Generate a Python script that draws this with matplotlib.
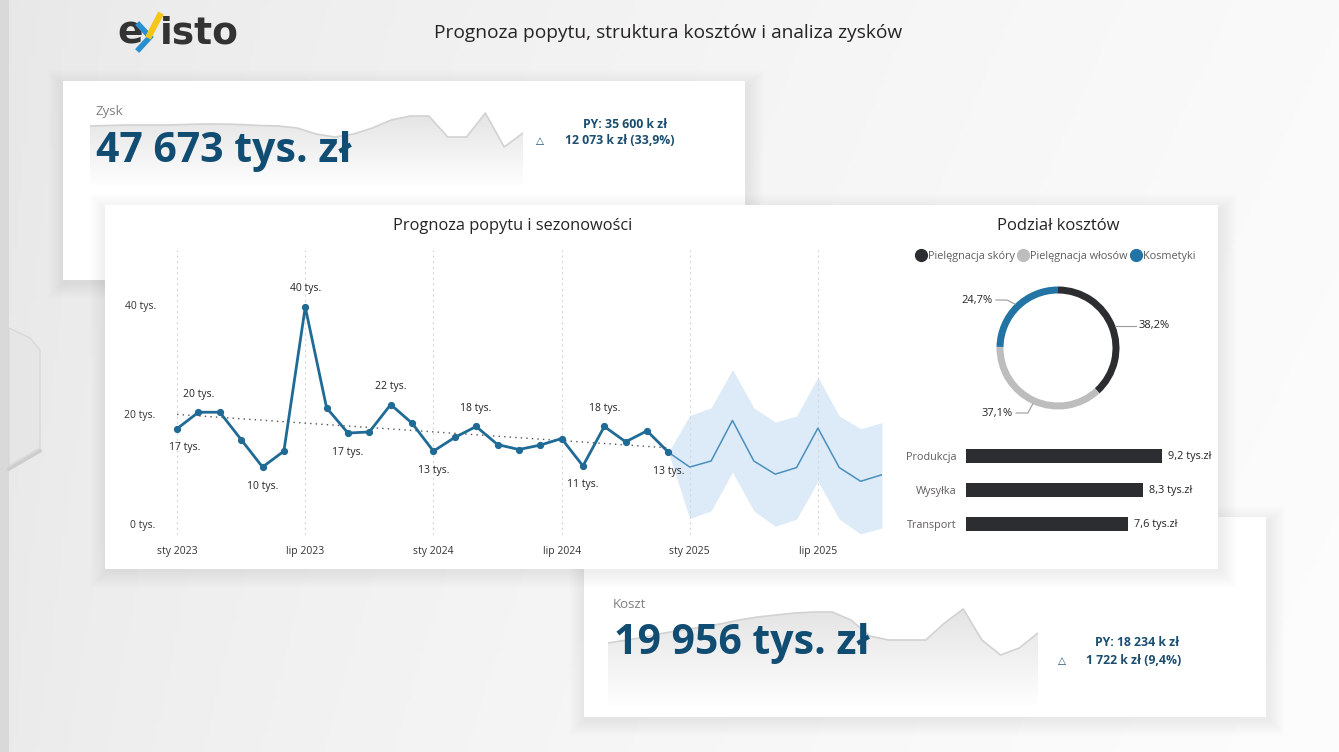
import numpy as np
import matplotlib.pyplot as plt
from matplotlib.patches import Rectangle, Polygon
from matplotlib.lines import Line2D

W, H = 1339, 752

# --- dane: prognoza popytu (tys.) ---
popyt_miesiace = list(range(24))          # sty 2023 .. gru 2024
popyt = [17.4, 20.4, 20.4, 15.4, 10.4, 13.3, 39.6, 21.2, 16.6, 16.8, 21.8, 18.4,
         13.3, 15.8, 17.8, 14.5, 13.6, 14.4, 15.6, 10.6, 17.8, 15.0, 17.0, 13.1]
etykiety_idx = [0, 1, 4, 6, 8, 10, 12, 14, 19, 20, 23]
etykiety_pod = [True, False, True, False, True, False, True, False, True, False, True]

prognoza_miesiace = list(range(23, 34))   # gru 2024 .. paź 2025
prognoza = [13.1, 10.4, 11.5, 18.9, 11.5, 9.1, 10.3, 17.5, 10.3, 7.8, 9.0]
prognoza_gora = [13.1, 19.8, 21.2, 28.2, 21.2, 18.6, 19.7, 26.8, 19.7, 17.4, 18.5]
prognoza_dol = [13.1, 1.0, 2.4, 9.5, 2.4, -0.4, 0.9, 7.8, 0.9, -1.8, -0.7]
trend_od, trend_do = 20.0, 13.9

x_ticks = [0, 6, 12, 18, 24, 30]
x_labels = ["sty 2023", "lip 2023", "sty 2024", "lip 2024", "sty 2025", "lip 2025"]
y_ticks = [0, 20, 40]

# --- podział kosztów ---
grupy = ["Pielęgnacja skóry", "Pielęgnacja włosów", "Kosmetyki"]
udzialy = [38.2, 37.1, 24.7]
kategorie = ["Produkcja", "Wysyłka", "Transport"]
koszty = [9.2, 8.3, 7.6]

# --- sparkline KPI ---
zysk_spark = [59, 59.5, 60, 60, 60, 60.5, 61, 61, 60.5, 59.5, 59, 57,
              51, 48, 51, 57, 65, 69, 69, 48, 48, 72, 38, 52]
koszt_spark = [62, 65, 68, 72, 75, 78, 81, 85, 88, 90, 92, 93,
               93, 85, 69, 65, 65, 65, 82, 96, 65, 50, 57, 72]

BLUE = "#1f6b96"
DARK = "#2b2d31"
GREY = "#bdbdbd"
KOSM = "#2274a5"
NAVY = "#114d72"
TXT = "#252423"

plt.rcParams['font.family'] = ['Open Sans', 'DejaVu Sans']

fig = plt.figure(figsize=(W / 100, H / 100), dpi=100)
bg = fig.add_axes([0, 0, 1, 1])
bg.set_xlim(0, W)
bg.set_ylim(H, 0)
bg.axis('off')


def px_axes(x0, y0, x1, y1):
    ax = fig.add_axes([x0 / W, 1 - y1 / H, (x1 - x0) / W, (y1 - y0) / H])
    ax.patch.set_alpha(0)
    return ax


# tło
gx = np.linspace(0, 1, 300)
gy = np.linspace(0, 1, 160)[:, None]
val = 0.905 + 0.075 * gx[None, :] ** 0.6 + 0.012 * gy
bg.imshow(np.dstack([val, val, val]), extent=[0, W, H, 0], aspect='auto', zorder=0)
bg.add_patch(Rectangle((0, 0), 9, H, color="#d9d9d9", lw=0, zorder=1))
bg.add_patch(Polygon([(9, 328), (30, 338), (40, 350), (40, 448), (9, 466)],
                     closed=True, facecolor="#e6e6e6", edgecolor="#d8d8d8", lw=1, zorder=1))
bg.plot([9, 40], [469, 451], color="#cdcdcd", lw=2.5, zorder=1)


def card(x0, y0, x1, y1, z):
    for k in range(1, 18):
        bg.add_patch(Rectangle((x0 - k + 2, y0 - k + 6), x1 - x0 + 2 * k, y1 - y0 + 2 * k - 4,
                               color="black", alpha=0.0045, lw=0, zorder=z))
    bg.add_patch(Rectangle((x0, y0), x1 - x0, y1 - y0, color="white", lw=0, zorder=z + 0.5))


card(63, 81, 745, 280, 2)
card(584, 517, 1266, 717, 3)
card(105, 205, 1218, 569, 4)

# logo
bg.text(117, 33, "e", fontsize=27, fontweight='bold', color="#333333",
        family='DejaVu Sans', va='center', ha='left', zorder=6)
bg.text(160, 33, "isto", fontsize=27, fontweight='bold', color="#333333",
        family='DejaVu Sans', va='center', ha='left', zorder=6)
bg.plot([139, 150, 139], [25, 37, 49], color="#2a8fd0", lw=4, solid_joinstyle='miter', zorder=6)
bg.plot([148, 161], [38, 13], color="#f5c518", lw=4.5, solid_capstyle='butt', zorder=7)

bg.text(668, 33, "Prognoza popytu, struktura kosztów i analiza zysków",
        fontsize=13.8, color=TXT, ha='center', va='center', zorder=6)


# sparkline z gradientem
def spark(x0, y0, x1, y1, values, ymax):
    ax = px_axes(x0, y0, x1, y1)
    xs = np.arange(len(values))
    ax.set_xlim(0, len(values) - 1)
    ax.set_ylim(0, ymax)
    ax.axis('off')
    poly = Polygon(list(zip(xs, values)) + [(xs[-1], 0), (0, 0)], closed=True,
                   facecolor='none', edgecolor='none')
    ax.add_patch(poly)
    g = np.linspace(0.995, 0.895, 100)[:, None] * np.ones((1, 4))
    im = ax.imshow(np.dstack([g, g, g]), extent=[0, len(values) - 1, 0, max(values)],
                   origin='lower', aspect='auto')
    im.set_clip_path(poly)
    ax.plot(xs, values, color="#d2d2d2", lw=1.2)
    return ax


spark(90, 100, 523, 185, zysk_spark, 85)
spark(608, 590, 1038, 705, koszt_spark, 115)

# KPI: Zysk
bg.text(96, 111, "Zysk", fontsize=9.5, color="#808080", va='center', zorder=3)
fig.text(96 / W, 1 - 151 / H, "47 673 tys. zł", fontsize=29.5, fontweight='bold',
         color=NAVY, va='center', ha='left')
fig.text(625 / W, 1 - 125 / H, "PY: 35 600 k zł", fontsize=8.8, fontweight='bold',
         color="#1b4e6e", ha='center', va='center')
fig.text(620 / W, 1 - 140 / H, "12 073 k zł (33,9%)", fontsize=8.8, fontweight='bold',
         color="#1b4e6e", ha='center', va='center')
fig.text(540 / W, 1 - 141 / H, "△", fontsize=7.5, color="#1b4e6e", ha='center', va='center',
         family=['DejaVu Sans'])

# KPI: Koszt
fig.text(613 / W, 1 - 605 / H, "Koszt", fontsize=9.5, color="#808080", va='center')
fig.text(614 / W, 1 - 643 / H, "19 956 tys. zł", fontsize=29.5, fontweight='bold',
         color=NAVY, va='center', ha='left')
fig.text(1137 / W, 1 - 642 / H, "PY: 18 234 k zł", fontsize=8.8, fontweight='bold',
         color="#1b4e6e", ha='center', va='center')
fig.text(1134 / W, 1 - 661 / H, "1 722 k zł (9,4%)", fontsize=8.8, fontweight='bold',
         color="#1b4e6e", ha='center', va='center')
fig.text(1062 / W, 1 - 661 / H, "△", fontsize=7.5, color="#1b4e6e", ha='center', va='center',
         family=['DejaVu Sans'])

# --- wykres liniowy ---
lc = px_axes(160, 250, 882, 535)
lc.set_xlim(-0.8, 33)
lc.set_ylim(-2, 50)
lc.fill_between(prognoza_miesiace, prognoza_dol, prognoza_gora, color="#dcebf7", lw=0)
lc.plot(prognoza_miesiace, prognoza, color="#4a8fbb", lw=1.1)
lc.plot([popyt_miesiace[0], popyt_miesiace[-1]], [trend_od, trend_do],
        ls=(0, (1, 3)), color="#555555", lw=1)
lc.plot(popyt_miesiace, popyt, color=BLUE, lw=2, marker='o', ms=4.2)
for i, pod in zip(etykiety_idx, etykiety_pod):
    dx = 8 if i == 0 else 0
    lc.annotate(f"{round(popyt[i])} tys.", (popyt_miesiace[i], popyt[i]),
                xytext=(dx, -19 if pod else 18), textcoords='offset pixels',
                ha='center', va='center', fontsize=7.5, color=TXT)
lc.set_xticks(x_ticks)
lc.set_xticklabels(x_labels)
lc.set_yticks(y_ticks)
lc.set_yticklabels([f"{v} tys." for v in y_ticks])
lc.tick_params(length=0, labelsize=7.5, labelcolor="#333333")
lc.tick_params(axis='x', pad=8)
lc.tick_params(axis='y', pad=3)
lc.grid(axis='x', ls=(0, (2, 3)), color="#d6d6d6", lw=0.8)
for s in lc.spines.values():
    s.set_visible(False)
fig.text(513 / W, 1 - 226 / H, "Prognoza popytu i sezonowości", fontsize=11.8,
         color=TXT, ha='center', va='center')

# --- donut ---
fig.text(1058 / W, 1 - 226 / H, "Podział kosztów", fontsize=12,
         color=TXT, ha='center', va='center')
kolory = [DARK, GREY, KOSM]
handles = [Line2D([], [], ls='none', marker='o', ms=8.5, color=c) for c in kolory]
fig.legend(handles, grupy, loc='center', bbox_to_anchor=(1056 / W, 1 - 256 / H), ncol=3,
           frameon=False, handletextpad=0.3, columnspacing=0.4, handlelength=0.7,
           fontsize=7.8, labelcolor="#605e5c")

dn = px_axes(983, 273, 1133, 423)
dn.pie(udzialy, colors=kolory, startangle=90, counterclock=False, radius=1,
       wedgeprops=dict(width=0.114, edgecolor='none'))
lim = 75 / 61.5
dn.set_xlim(-lim, lim)
dn.set_ylim(-lim, lim)
start = 90
leader = [((1.25, None), (1.317, 'left')),
          ((-0.49, -1.057), (-0.73, 'right')),
          ((-0.83, 0.78), (-1.06, 'right'))]
for u, ((ex, ey), (tx, ha)) in zip(udzialy, leader):
    th = np.radians(start - u * 3.6 / 2)
    start -= u * 3.6
    px, py = np.cos(th), np.sin(th)
    if ey is None:
        ey = py
    lx = tx + (-0.05 if ha == 'left' else 0.05)
    dn.plot([px, ex, lx], [py, ey, ey], color="#9a9a9a", lw=0.8, clip_on=False)
    dn.text(tx, ey, f"{u:.1f}%".replace('.', ','), fontsize=8, color=TXT,
            ha=ha, va='center', clip_on=False)

# --- słupki kosztów ---
br = px_axes(966, 439, 1200, 541)
yk = np.arange(len(kategorie))
br.barh(yk, koszty, height=0.41, color=DARK)
br.set_ylim(2.5, -0.5)
br.set_xlim(0, 11)
br.set_yticks(yk)
br.set_yticklabels(kategorie)
br.set_xticks([])
br.tick_params(length=0, labelsize=7.8, labelcolor="#605e5c", pad=7)
for s in br.spines.values():
    s.set_visible(False)
for y, v in zip(yk, koszty):
    br.text(v + 0.28, y, f"{v:.1f}".replace('.', ',') + " tys.zł", fontsize=7.8,
            color=TXT, va='center', ha='left')

fig.savefig("out.png", dpi=100)
